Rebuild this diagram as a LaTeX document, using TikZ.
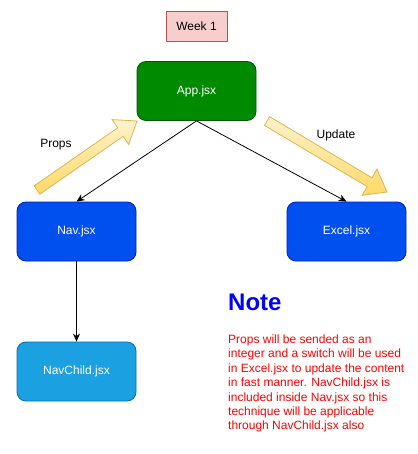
\documentclass[tikz,border=0pt]{standalone}
\usepackage{fontspec}
\setmainfont{Liberation Sans}
\usetikzlibrary{arrows.meta}
\definecolor{appfill}{HTML}{008A00}
\definecolor{appline}{HTML}{005700}
\definecolor{navfill}{HTML}{0050EF}
\definecolor{navline}{HTML}{001DBC}
\definecolor{childfill}{HTML}{1BA1E2}
\definecolor{childline}{HTML}{006EAF}
\definecolor{weekfill}{HTML}{F8CECC}
\definecolor{weekline}{HTML}{B85450}
\definecolor{ylight}{HTML}{FFF2CC}
\definecolor{ydark}{HTML}{FFD966}
\definecolor{yline}{HTML}{D6B656}
\definecolor{noteblue}{HTML}{0000FF}
\definecolor{notered}{HTML}{FF0000}
\begin{document}
\begin{tikzpicture}[x=1pt,y=-1pt,
  font=\fontsize{12}{14.4}\selectfont,
  comp/.style={draw, line width=0.8pt, rounded corners=9pt, minimum width=119pt, minimum height=59pt, text=white, inner sep=0pt},
  link/.style={draw=black, line width=0.8pt, -{Stealth[length=8pt,width=7pt]}},
  flatarrow/.style={draw=yline, line width=0.8pt, top color=ylight, bottom color=ydark, line join=miter}
]
\useasboundingbox (0,0) rectangle (417,454);

\node[draw=weekline, line width=0.8pt, fill=weekfill, minimum width=61pt, minimum height=30pt, inner sep=0pt] (week) at (196.5,26) {Week 1};

\node[comp, fill=appfill, draw=appline] (app) at (196.5,91) {App.jsx};
\node[comp, fill=navfill, draw=navline] (nav) at (76.5,231.5) {Nav.jsx};
\node[comp, fill=navfill, draw=navline] (excel) at (346.5,231.5) {Excel.jsx};
\node[comp, fill=childfill, draw=childline] (child) at (76.5,371.5) {NavChild.jsx};

\draw[link] (app.south) -- (nav.north);
\draw[link] (app.south) -- (excel.north);
\draw[link] (nav.south) -- (child.north);

% Props flat arrow
\draw[flatarrow] (39.8,194.2) -- (123.2,136.3) -- (128.7,144.5) -- (137,121) -- (112.1,119.6) -- (117.6,127.9) -- (34.2,185.8) -- cycle;
% Update flat arrow
\draw[flatarrow] (264.5,125.4) -- (367.1,186.6) -- (362.2,195.3) -- (387,192) -- (377.0,169.1) -- (372.0,177.8) -- (269.5,116.6) -- cycle;

\node (props) at (56,145) {Props};
\node (update) at (336,135) {Update};

\node[anchor=base west, inner sep=0pt, text=noteblue, font=\fontsize{24}{28}\selectfont\bfseries] (note) at (228,310) {Note};
\node[anchor=north west, inner sep=0pt, text=notered, align=left] (notetext) at (228,334.5) {Props will be sended as an\\integer and a switch will be used\\in Excel.jsx to update the content\\in fast manner. NavChild.jsx is\\included inside Nav.jsx so this\\technique will be applicable\\through NavChild.jsx also};
\end{tikzpicture}
\end{document}
